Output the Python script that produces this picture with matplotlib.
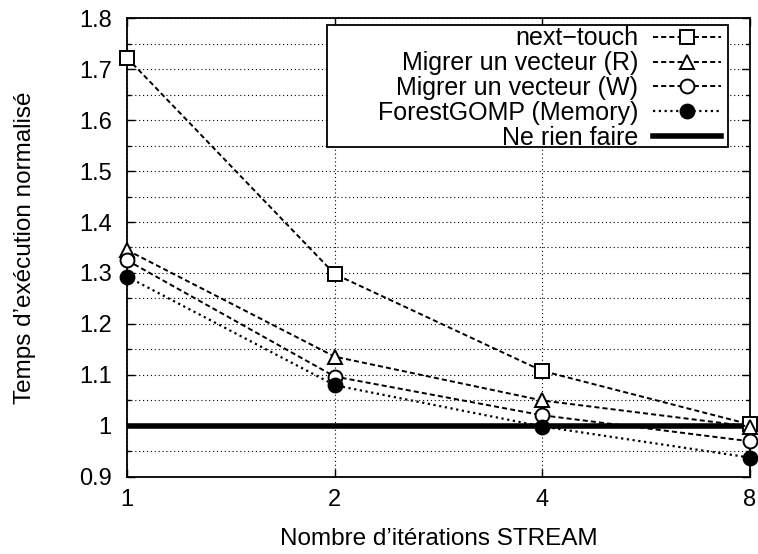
import numpy as np
import matplotlib
matplotlib.use("Agg")
import matplotlib.pyplot as plt
from matplotlib.patches import Rectangle
from matplotlib.ticker import FixedLocator, NullFormatter

plt.rcParams['font.family'] = ['Liberation Sans', 'DejaVu Sans']

# donnees
iterations = [1, 2, 4, 8]
next_touch = [1.722, 1.298, 1.108, 1.003]
migrer_r = [1.345, 1.136, 1.050, 0.999]
migrer_w = [1.325, 1.097, 1.021, 0.970]
forestgomp = [1.293, 1.080, 0.999, 0.938]
rien_faire = 1.0

labels = ['next\u2212touch', 'Migrer un vecteur (R)', 'Migrer un vecteur (W)',
          'ForestGOMP (Memory)', 'Ne rien faire']

fig = plt.figure(figsize=(7.58, 5.54), dpi=100)
ax = fig.add_axes([0.1675, 0.139, 0.822, 0.8285])

dash = (0, (2.6, 1.6))
dot = (0, (1, 1.6))

ax.plot(iterations, next_touch, color='black', lw=1.4, ls=dash, marker='s',
        ms=10, mfc='white', mec='black', mew=1.4, label=labels[0], zorder=5, clip_on=False)
ax.plot(iterations, migrer_r, color='black', lw=1.4, ls=dash, marker='^',
        ms=10, mfc='white', mec='black', mew=1.4, label=labels[1], zorder=5, clip_on=False)
ax.plot(iterations, migrer_w, color='black', lw=1.4, ls=dash, marker='o',
        ms=10, mfc='white', mec='black', mew=1.4, label=labels[2], zorder=5, clip_on=False)
ax.plot(iterations, forestgomp, color='black', lw=1.6, ls=dot, marker='o',
        ms=10, mfc='black', mec='black', mew=1.4, label=labels[3], zorder=5, clip_on=False)
ax.axhline(rien_faire, color='black', lw=4, label=labels[4], zorder=4)

ax.set_xscale('log', base=2)
ax.set_xlim(1, 8)
ax.set_ylim(0.9, 1.8)
ax.xaxis.set_major_locator(FixedLocator(iterations))
ax.xaxis.set_minor_locator(FixedLocator([]))
ax.set_xticklabels([str(v) for v in iterations])
ax.xaxis.set_minor_formatter(NullFormatter())
yt = np.round(np.arange(0.9, 1.801, 0.1), 2)
ax.set_yticks(yt)
ax.set_yticklabels(['0.9', '1'] + ['%.1f' % v for v in yt[2:]])
ax.set_yticks(np.round(np.arange(0.95, 1.8, 0.1), 2), minor=True)

ax.grid(True, which='both', axis='y', color='black', lw=0.8, ls=(0, (1, 2.5)))
ax.grid(True, which='major', axis='x', color='black', lw=0.8, ls=(0, (1, 2.5)))

ax.tick_params(axis='both', which='both', direction='in', top=True, right=True,
               labelsize=17, width=1.0)
ax.tick_params(axis='y', pad=11)
ax.tick_params(axis='x', pad=9)
ax.tick_params(which='major', length=6)
ax.tick_params(which='minor', length=3)
for s in ax.spines.values():
    s.set_linewidth(1.3)

ax.set_xlabel('Nombre d\u2019it\u00e9rations STREAM', fontsize=17.5, labelpad=12)
ax.set_ylabel('Temps d\u2019ex\u00e9cution normalis\u00e9', fontsize=17.5, labelpad=31)

# cadre de la legende (style gnuplot, plus large que le texte)
cadre = Rectangle((0.321, 0.719), 0.644, 0.266, transform=ax.transAxes,
                  facecolor='white', edgecolor='black', lw=1.3, zorder=6)
ax.add_patch(cadre)

leg = ax.legend(loc='upper right', bbox_to_anchor=(0.957, 0.987), borderaxespad=0,
                fontsize=18, markerfirst=False, frameon=False,
                handlelength=2.7, handletextpad=0.6,
                labelspacing=0.035, borderpad=0.1)
leg.set_zorder(7)

fig.savefig('out.png', dpi=100)
